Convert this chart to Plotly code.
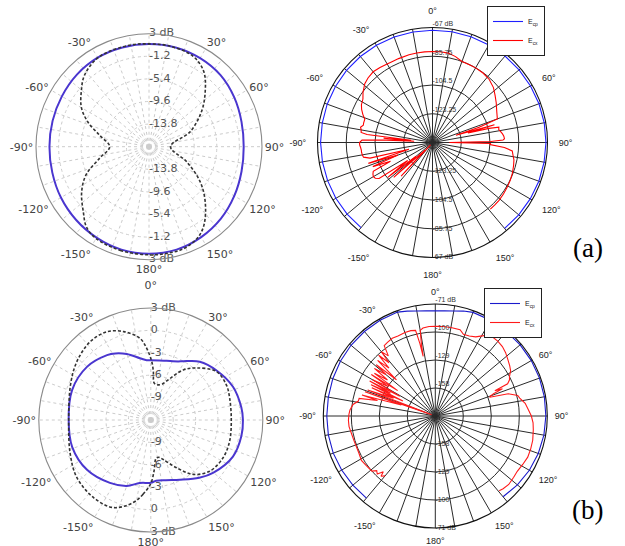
import plotly.graph_objects as go

# ---------------- data ----------------
# Panel (a) left: normalized pattern, dB
p1_theta_cp = [-180, -165, -150, -135, -120, -105, -90, -75, -60, -45, -30, -15, 0,
               15, 30, 45, 60, 75, 90, 105, 120, 135, 150, 165, 180]
p1_r_cp = [1.9, 1.8, 1.5, 1.2, 0.9, 0.6, 0.5, 0.55, 0.7, 0.95, 1.1, 1.1, 1.1,
           1.1, 1.0, 0.8, 0.3, -0.2, -0.4, -0.2, 0.3, 0.9, 1.4, 1.8, 1.9]
p1_theta_x = [-180, -165, -150, -142, -135, -124, -114, -103, -90, -77, -68, -60, -51, -42,
              -29, -11, 0, 11, 26, 36, 45.5, 56, 70, 90, 112, 124.5, 134.5, 145, 152, 161, 170, 180]
p1_r_x = [2.1, 2.0, 1.7, 0.9, -0.75, -2.9, -5.2, -8.6, -10.7, -8.6, -5.75, -3.5, -1.8, -0.1,
          1.1, 1.2, 1.1, 1.1, 0.7, -0.7, -3.35, -6.2, -9.85, -14.0, -10.4, -6.45, -3.35, -0.2, 1.2, 2.0, 2.1, 2.1]
p1_ticks = [3, -1.2, -5.4, -9.6, -13.8]
p1_ticktext = ['3 dB', '-1.2', '-5.4', '-9.6', '-13.8']

# Panel (a) right: Ecp / Ecx, dB
p2_theta_cp = [-140, -130, -120, -110, -100, -90, -80, -70, -60, -50, -40, -30, -20, -10, 0,
               10, 20, 30, 40, 50, 60, 70, 80, 90, 100, 110, 120, 130, 140]
p2_r_cp = [-69.5, -69.3, -69.2, -69.2, -69.1, -69.0, -69.0, -68.9, -68.9, -68.8, -68.8, -68.8, -68.8, -68.8, -68.8,
           -68.7, -68.6, -68.5, -68.4, -68.3, -68.2, -68.1, -68.0, -68.0, -68.1, -68.2, -68.4, -68.6, -68.8]
p2_theta_cx = [-140, -137, -135, -132, -130, -128, -126, -124, -122, -120, -118, -116, -114, -112, -110,
               -108, -106, -104, -102, -100, -98, -96, -94, -92, -90, -88, -87, -86, -85, -84, -83, -82,
               -80, -78, -76, -74, -71, -68, -65, -62, -58, -54, -49, -45, -40, -35, -30, -27, -22, -15,
               -10, -5, 0, 5, 10, 15, 20, 25, 30, 36, 42, 48, 53, 58, 65, 70, 72, 73, 74, 75, 76, 77,
               79, 81, 83, 85, 87, 88, 89, 90, 91, 92, 94, 96, 100, 102, 106, 111, 116, 121, 126, 131, 135, 139]
p2_r_cx = [-140, -112, -135, -108, -128, -105, -122, -100, -98, -97.5, -98, -99, -112, -100, -118,
           -98, -126, -100, -96, -95.5, -95.3, -95.3, -95, -94.5, -94.4, -96, -112, -130, -110, -128, -99, -95,
           -94.8, -94, -95.5, -95.3, -95.3, -93, -91, -89.5, -88.5, -86, -83.5, -82.5, -81.8, -82.3, -82.8, -83, -83, -82.8,
           -82.7, -82.7, -82.7, -82.6, -82.8, -84, -85.8, -85.8, -85.8, -86, -86.7, -88.5, -90.9, -93, -95.7, -97, -110, -126, -100, -118, -104, -97.6,
           -98, -97, -96, -95.3, -95, -96, -104, -131, -104, -104.4, -95, -89.7, -88.5, -87.7, -87, -86.2, -85.6, -85.2, -84.8, -84.5, -84.5, -84.5]
p2_ticks = [-67, -85.75, -104.5, -123.25]
p2_ticktext = ['-67 dB', '-85.75', '-104.5', '-123.25']

# Panel (b) left: normalized pattern, dB
p3_theta_cp = [-180, -170, -160, -147, -128, -109, -90, -69, -50, -34, -28, -20, -10, -4, 0,
               8, 15, 25, 29, 40, 53, 68, 82, 90, 100, 114, 130, 140, 154, 166, 175, 180]
p3_r_cp = [-3.6, -3.43, -2.6, -1.95, -1.16, -0.87, -1.0, -0.72, -0.88, -1.52, -1.9, -2.6, -3.6, -3.98, -4.0,
           -3.95, -3.8, -3.35, -3.0, -1.8, -0.97, -0.13, 0.24, 0.34, 0.32, 0.04, -1.04, -1.9, -3.1, -3.7, -3.83, -3.6]
p3_theta_x = [-180, -174, -168, -157, -144, -128, -113, -90, -66, -52, -38, -26.5, -17, -7.5, -3, 1, 3, 5,
              10, 17, 25, 33, 41, 53.5, 65, 74.5, 90, 105, 117.6, 131, 142, 151.7, 162.5, 168, 172.3, 176.4, 180]
p3_r_x = [-3.5, -2.0, -0.7, 0.75, 0.92, 0.55, -0.28, -1.0, -0.24, 0.6, 1.26, 1.2, 0.38, -0.98, -2.5, -4.2, -5.5, -7.0,
          -7.2, -7.0, -5.84, -4.0, -2.76, -1.08, -0.84, -1.04, -1.22, -1.07, -1.08, -1.55, -2.76, -4.73, -6.45, -6.9, -6.8, -5.14, -3.5]
p3_ticks = [3, 0, -3, -6, -9]
p3_ticktext = ['3 dB', '0', '-3', '-6', '-9']

# Panel (b) right: Ecp / Ecx, dB
p4_theta_cp = [-140, -130, -120, -110, -100, -90, -80, -70, -60, -50, -40, -30, -20, -15, -10, -5, 0,
               5, 10, 15, 20, 30, 40, 50, 60, 70, 80, 90, 100, 110, 120, 130, 140]
p4_r_cp = [-76, -75.5, -75, -74.5, -74.5, -74.6, -74.5, -74, -73.5, -73, -72.8, -72.6, -72.5, -74.5, -76.5, -77.7, -78,
           -77.7, -76.5, -74.5, -72.8, -72.5, -72.5, -72.3, -72.2, -72.2, -72.3, -72.5, -72.8, -73.5, -74.5, -76, -77.8]
p4_theta_cx = [-140, -138, -137, -135, -133, -131, -126, -121, -116, -112, -107, -102, -97, -93, -89, -86, -82,
               -79, -77, -75, -74, -72, -71, -70, -69, -67, -66, -65, -64, -63, -62, -61, -60, -58, -57, -56,
               -55, -53, -52, -50, -49, -47, -46, -44, -43, -41, -40, -38, -36, -33, -29, -25, -20, -16, -13,
               -12, -11.5, -11, -10, -8, -4, 0, 5, 10, 16, 19, 23, 27, 32, 36, 40, 44, 48, 52, 56, 59, 62,
               64, 66, 67, 68, 69, 70, 71, 73, 76, 78, 82, 86, 90, 94, 98, 104, 109, 114, 119, 124, 128, 133, 137, 139.5]
p4_r_cx = [-106, -103, -108, -102, -104, -100, -99, -97.7, -99, -99.3, -99, -98.3, -97, -96.9, -97.5, -98.4, -101,
           -105.8, -106, -125, -108, -150, -110, -183, -112, -140, -115, -150, -113, -135, -110, -145, -112, -130, -108, -140,
           -110, -125, -107, -120, -106, -132, -104, -118, -101, -114, -100, -108, -97, -96, -95, -95.5, -95, -95, -96,
           -110, -124, -112, -97, -95, -94, -94, -94, -94, -94, -97.5, -97, -95, -88.5, -86, -86, -87, -89, -91.7, -94, -96, -100,
           -101.5, -105, -120, -112, -122, -126, -127.5, -108, -99, -97.6, -93, -90.5, -87.5, -85.5, -84.5, -83, -82.5, -82.2, -83.5, -84.6, -84, -83, -84, -85.1]
p4_ticks = [-71, -100, -129, -158]
p4_ticktext = ['-71 dB', '-100', '-129', '-158']

angle_labels = {0: '0°', 30: '30°', 60: '60°', 90: '90°', 120: '120°', 150: '150°', 180: '180°',
                210: '-150°', 240: '-120°', 270: '-90°', 300: '-60°', 330: '-30°'}

# ---------------- figure ----------------
W, H = 625, 546


def dom(cx, cy, R):
    return dict(x=[(cx - R) / W, (cx + R) / W], y=[1 - (cy + R) / H, 1 - (cy - R) / H])


def ang_axis(zero_label, font, linecolor, gridcolor, gw, dash, ticks, ticklen):
    vals = list(range(0, 360, 10))
    txt = [angle_labels.get(v, '') for v in vals]
    txt[0] = zero_label
    return dict(rotation=90, direction='clockwise', tickmode='array', tickvals=vals, ticktext=txt,
                showline=True, linecolor=linecolor, linewidth=1.1, showgrid=True, gridcolor=gridcolor,
                gridwidth=gw, griddash=dash, ticks=ticks, ticklen=ticklen, tickcolor='rgba(0,0,0,0)',
                tickfont=font)


def rad_axis(rng, ticks, gridcolor, gw, dash):
    return dict(range=rng, tickmode='array', tickvals=ticks, showticklabels=False, ticks='',
                showline=False, showgrid=True, gridcolor=gridcolor, gridwidth=gw, griddash=dash)


fig = go.Figure()

blue1 = '#4a36cf'
# Panel 1
fig.add_trace(go.Scatterpolar(theta=p1_theta_cp, r=p1_r_cp, mode='lines', subplot='polar',
                              line=dict(color=blue1, width=2, shape='spline'), showlegend=False, hoverinfo='skip'))
fig.add_trace(go.Scatterpolar(theta=p1_theta_x, r=p1_r_x, mode='lines', subplot='polar',
                              line=dict(color='#333333', width=1.6, dash='3px,2px', shape='spline'),
                              showlegend=False, hoverinfo='skip'))
fig.add_trace(go.Scatterpolar(theta=[0] * len(p1_ticks) + [180] * len(p1_ticks), r=p1_ticks + p1_ticks,
                              text=p1_ticktext + p1_ticktext, mode='text', textposition='middle right',
                              textfont=dict(family='DejaVu Sans', size=11, color='#555555'), cliponaxis=False,
                              subplot='polar', showlegend=False, hoverinfo='skip'))

# Panel 2
fig.add_trace(go.Scatterpolar(theta=p2_theta_cp, r=p2_r_cp, mode='lines', subplot='polar2', name='E<sub>cp</sub>',
                              line=dict(color='#1f1fff', width=1.1), legend='legend', hoverinfo='skip'))
fig.add_trace(go.Scatterpolar(theta=p2_theta_cx, r=p2_r_cx, mode='lines', subplot='polar2', name='E<sub>cx</sub>',
                              line=dict(color='#ff0000', width=1.1), legend='legend', hoverinfo='skip'))
fig.add_trace(go.Scatterpolar(theta=[0] * len(p2_ticks), r=p2_ticks, text=p2_ticktext, mode='text',
                              textposition='top right', textfont=dict(family='Liberation Sans', size=7, color='#333'),
                              cliponaxis=False, subplot='polar2', showlegend=False, hoverinfo='skip'))
fig.add_trace(go.Scatterpolar(theta=[180] * len(p2_ticks), r=p2_ticks, text=p2_ticktext, mode='text',
                              textposition='middle right', textfont=dict(family='Liberation Sans', size=7, color='#333'),
                              cliponaxis=False, subplot='polar2', showlegend=False, hoverinfo='skip'))

# Panel 3
fig.add_trace(go.Scatterpolar(theta=p3_theta_cp, r=p3_r_cp, mode='lines', subplot='polar3',
                              line=dict(color=blue1, width=2, shape='spline'), showlegend=False, hoverinfo='skip'))
fig.add_trace(go.Scatterpolar(theta=p3_theta_x, r=p3_r_x, mode='lines', subplot='polar3',
                              line=dict(color='#333333', width=1.6, dash='3px,2px', shape='spline'),
                              showlegend=False, hoverinfo='skip'))
fig.add_trace(go.Scatterpolar(theta=[0] * len(p3_ticks) + [180] * len(p3_ticks), r=p3_ticks + p3_ticks,
                              text=p3_ticktext + p3_ticktext, mode='text', textposition='middle right',
                              textfont=dict(family='DejaVu Sans', size=11, color='#555555'), cliponaxis=False,
                              subplot='polar3', showlegend=False, hoverinfo='skip'))

# Panel 4
fig.add_trace(go.Scatterpolar(theta=p4_theta_cp, r=p4_r_cp, mode='lines', subplot='polar4', name='E<sub>cp</sub>',
                              line=dict(color='#1a1acc', width=1.1), legend='legend2', hoverinfo='skip'))
fig.add_trace(go.Scatterpolar(theta=p4_theta_cx, r=p4_r_cx, mode='lines', subplot='polar4', name='E<sub>cx</sub>',
                              line=dict(color='#ff1a1a', width=1.1), legend='legend2', hoverinfo='skip'))
fig.add_trace(go.Scatterpolar(theta=[0] * len(p4_ticks), r=p4_ticks, text=p4_ticktext, mode='text',
                              textposition='top right', textfont=dict(family='Liberation Sans', size=7, color='#333'),
                              cliponaxis=False, subplot='polar4', showlegend=False, hoverinfo='skip'))
fig.add_trace(go.Scatterpolar(theta=[180] * len(p4_ticks), r=p4_ticks, text=p4_ticktext, mode='text',
                              textposition='middle right', textfont=dict(family='Liberation Sans', size=7, color='#333'),
                              cliponaxis=False, subplot='polar4', showlegend=False, hoverinfo='skip'))

font13 = dict(family='DejaVu Sans', size=11, color='#444444')
font24 = dict(family='Liberation Sans', size=9, color='#222222')

fig.update_layout(
    width=W, height=H, margin=dict(l=0, r=0, t=0, b=0), paper_bgcolor='white',
    polar=dict(domain=dom(149, 146.7, 113), bgcolor='white',
               angularaxis=ang_axis('', font13, '#8a8a8a', '#cccccc', 0.8, 'dot', '', 0),
               radialaxis=rad_axis([-18, 3], p1_ticks, '#cccccc', 0.8, 'dot')),
    polar2=dict(domain=dom(432.5, 142.5, 115), bgcolor='white',
                angularaxis=ang_axis('0°', font24, '#111111', '#2a2a2a', 0.9, 'solid', 'outside', 9),
                radialaxis=rad_axis([-142, -67], p2_ticks, '#2a2a2a', 0.9, 'solid')),
    polar3=dict(domain=dom(150.8, 420, 112), bgcolor='white',
                angularaxis=ang_axis('0°<br> ', font13, '#8a8a8a', '#cccccc', 0.8, 'dot', '', 0),
                radialaxis=rad_axis([-12, 3], p3_ticks, '#cccccc', 0.8, 'dot')),
    polar4=dict(domain=dom(435.3, 416, 112), bgcolor='white',
                angularaxis=ang_axis('0°', font24, '#111111', '#2a2a2a', 0.9, 'solid', 'outside', 5),
                radialaxis=rad_axis([-187, -71], p4_ticks, '#2a2a2a', 0.9, 'solid')),
    legend=dict(x=545 / W, xanchor='right', y=1 - 6 / H, yanchor='top', bgcolor='white',
                bordercolor='#222', borderwidth=1, font=dict(family='Liberation Sans', size=7, color='#222'),
                itemwidth=30, tracegroupgap=0),
    legend2=dict(x=542 / W, xanchor='right', y=1 - 288 / H, yanchor='top', bgcolor='white',
                 bordercolor='#222', borderwidth=1, font=dict(family='Liberation Sans', size=7, color='#222'),
                 itemwidth=30, tracegroupgap=0),
    annotations=[
        dict(text='(a)', x=605 / W, y=1 - 248 / H, xref='paper', yref='paper', showarrow=False,
             font=dict(family='Liberation Serif', size=27, color='black')),
        dict(text='(b)', x=605 / W, y=1 - 527 / H, xref='paper', yref='paper', showarrow=False,
             font=dict(family='Liberation Serif', size=27, color='black')),
    ],
)

fig.write_html('out.html', config={'displayModeBar': False},
               post_script="document.body.style.margin='0';document.body.style.padding='0';")
